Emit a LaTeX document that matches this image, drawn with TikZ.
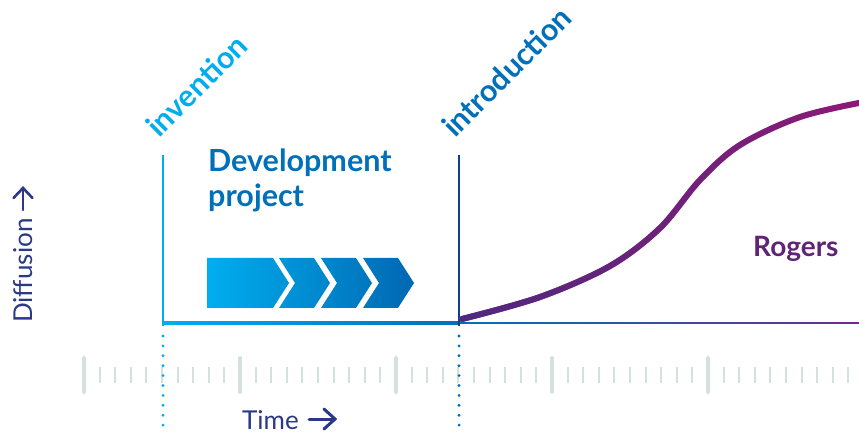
\documentclass[tikz,border=0pt]{standalone}
\usepackage{fontspec}
\setmainfont{Lato}
\usetikzlibrary{calc,fadings}

\definecolor{cyanA}{RGB}{0,174,239}
\definecolor{blueB}{RGB}{0,112,186}
\definecolor{chevB}{RGB}{0,104,178}
\definecolor{navyline}{RGB}{12,66,135}
\definecolor{navytext}{RGB}{43,56,135}
\definecolor{rogA}{RGB}{78,42,128}
\definecolor{rogB}{RGB}{142,26,118}
\definecolor{rogtext}{RGB}{96,36,118}
\definecolor{purpline}{RGB}{112,45,135}
\definecolor{tickc}{RGB}{212,226,220}

\begin{document}
\begin{tikzpicture}[x=1pt,y=-1pt,
  milestone/.style={inner sep=0pt, anchor=base west, rotate=45,
    font=\bfseries\fontsize{30.5}{33}\selectfont},
  axislabel/.style={inner sep=0pt, anchor=base west, text=navytext,
    font=\fontsize{26}{30}\selectfont},
  axisarrow/.style={draw=navytext, line width=3pt, line cap=round, line join=miter},
  phaseline/.style={line width=2.6pt},
  dotline/.style={line width=3.2pt, line cap=round, dash pattern=on 0pt off 9.9pt},
  majortick/.style={draw=tickc, line width=4pt, line cap=round},
  minortick/.style={draw=tickc, line width=2pt},
  rogerscurve/.style={line width=6pt, line cap=round},
]
\useasboundingbox (0,0) rectangle (859,435);

% time scale ticks
\foreach \n in {0,...,49}{
  \pgfmathsetmacro\tx{84+15.6*\n}
  \pgfmathtruncatemacro\ismajor{mod(\n,10)==0}
  \ifnum\ismajor=1
    \draw[majortick] (\tx,358) -- (\tx,392);
  \else
    \draw[minortick] (\tx,367) -- (\tx,383);
  \fi
}

% anchor points of the two milestones
\coordinate (invTop) at (163,155);
\coordinate (invBot) at (163,326);
\coordinate (invDotA) at (163,336);
\coordinate (invDotB) at (163,426);
\coordinate (intTop) at (459,155);
\coordinate (intBot) at (459,326);
\coordinate (intDotA) at (459,336);
\coordinate (intDotB) at (459,426);

% base lines
\shade[left color=cyanA, right color=blueB] (163,321.8) rectangle (459,324.2);
\shade[left color=blueB, right color=purpline] (459,322.4) rectangle (859,323.9);

% milestone lines
\draw[phaseline, cyanA] (invTop) -- (invBot);
\draw[phaseline, navyline] (intTop) -- (intBot);
\draw[dotline, cyanA] (invDotA) -- (invDotB);
\draw[dotline, blueB] (intDotA) -- (intDotB);

% milestone labels
\node[milestone, text=cyanA] (inv) at (159,139) {invention};
\node[milestone, text=blueB] (intro) at (455,139) {introduction};

% development project
\node[inner sep=0pt, anchor=north west, align=left, text=blueB,
  font=\bfseries\fontsize{30.5}{35}\selectfont] (dev) at (208,149) {Development\\project};

% chevron bar
\shade[left color=cyanA, right color=chevB]
  (207,258) -- (273,258) -- (289,283) -- (273,308) -- (207,308) -- cycle
  \foreach \L in {279,321,363}{
    (\L,258) -- (\L+35,258) -- (\L+51,283) -- (\L+35,308) -- (\L,308) -- (\L+16,283) -- cycle
  };

% Rogers diffusion curve: a magenta stroke with a fading violet stroke on top
\def\rogerspath{plot[smooth, tension=0.55] coordinates {(462,319) (540,297) (610,266)
  (660,228) (700,180) (740,145) (800,117) (864,102)}}
\draw[rogerscurve, rogB] \rogerspath;
\draw[rogerscurve, rogA, path fading=east] \rogerspath;
\node[inner sep=0pt, anchor=base west, text=rogtext,
  font=\bfseries\fontsize{28}{30}\selectfont] (rogers) at (753,257) {Rogers};

% axis labels
\node[axislabel] (time) at (242,429) {Time};
\coordinate (tA) at (309,419);
\coordinate (tB) at (335,419);
\draw[axisarrow] (tA) -- (tB);
\draw[axisarrow] ($(tB)+(-11,-10)$) -- (tB) -- ($(tB)+(-11,10)$);

\node[axislabel, rotate=90] (diff) at (32,323) {Diffusion};
\coordinate (dA) at (23,210);
\coordinate (dB) at (23,188);
\draw[axisarrow, line width=2.6pt] (dA) -- (dB);
\draw[axisarrow, line width=2.6pt] ($(dB)+(-9.5,10)$) -- (dB) -- ($(dB)+(9.5,10)$);
\end{tikzpicture}
\end{document}
